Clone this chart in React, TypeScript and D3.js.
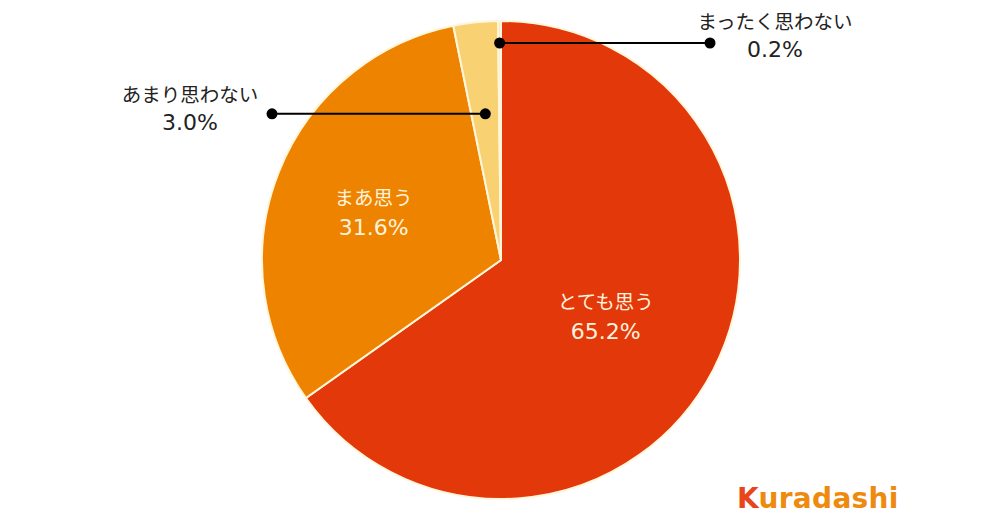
import React from "react";
import * as d3 from "d3";

const categories = ["とても思う", "まあ思う", "あまり思わない", "まったく思わない"];
const values = [65.2, 31.6, 3.0, 0.2];
const valueLabels = ["65.2%", "31.6%", "3.0%", "0.2%"];

const colors = ["#E3380A", "#EE8300", "#F8D272", "#FBE9B8"];
const W = 1004, H = 523;
const cx = 501, cy = 260, R = 239;
const FONT = "'Noto Sans CJK JP', 'Noto Sans', sans-serif";
const NUMFONT = "'DejaVu Sans', sans-serif";

export default function App() {
  const pie = d3.pie<number>().sort(null).value((d) => d);
  const arcs = pie(values);
  const arc = d3.arc<d3.PieArcDatum<number>>().innerRadius(0).outerRadius(R);
  const at = (a: number, r: number) => [cx + r * Math.sin(a), cy - r * Math.cos(a)];

  const insideR = [118, 137];
  const outside = [
    { i: 3, r: 217, ex: 710, lx: 775, ly: 29 },
    { i: 2, r: 147, ex: 272, lx: 190, ly: 102 },
  ];

  return (
    <svg width={W} height={H} style={{ position: "absolute", left: 0, top: 0, background: "#fff" }}>
      <g transform={`translate(${cx},${cy})`}>
        {arcs.map((a, i) => (
          <path key={i} d={arc(a) as string} fill={colors[i]} stroke="#FFF6DC" strokeWidth={2} />
        ))}
      </g>
      {[0, 1].map((i) => {
        const a = arcs[i];
        const m = (a.startAngle + a.endAngle) / 2;
        const [x, y] = at(m, insideR[i]);
        return (
          <g key={i} fill="#FFF3DE" textAnchor="middle">
            <text x={x} y={y - 5} fontFamily={FONT} fontSize={19.5}>{categories[i]}</text>
            <text x={x} y={y + 25} fontFamily={NUMFONT} fontSize={22}>{valueLabels[i]}</text>
          </g>
        );
      })}
      {outside.map((o) => {
        const a = arcs[o.i];
        const m = (a.startAngle + a.endAngle) / 2;
        const [x, y] = at(m, o.r);
        return (
          <g key={o.i}>
            <line x1={x} y1={y} x2={o.ex} y2={y} stroke="#000" strokeWidth={2} />
            <circle cx={x} cy={y} r={5.5} fill="#000" />
            <circle cx={o.ex} cy={y} r={5.5} fill="#000" />
            <g fill="#222" textAnchor="middle">
              <text x={o.lx} y={o.ly} fontFamily={FONT} fontSize={19.5}>{categories[o.i]}</text>
              <text x={o.lx} y={o.ly + 28} fontFamily={NUMFONT} fontSize={22}>{valueLabels[o.i]}</text>
            </g>
          </g>
        );
      })}
      <text x={737} y={508} fontFamily="'DejaVu Sans', sans-serif" fontWeight="bold" fontSize={28} fill="#EE8A0E" letterSpacing={0.3}>
        <tspan fill="#E8461A">K</tspan>uradashi
      </text>
    </svg>
  );
}
